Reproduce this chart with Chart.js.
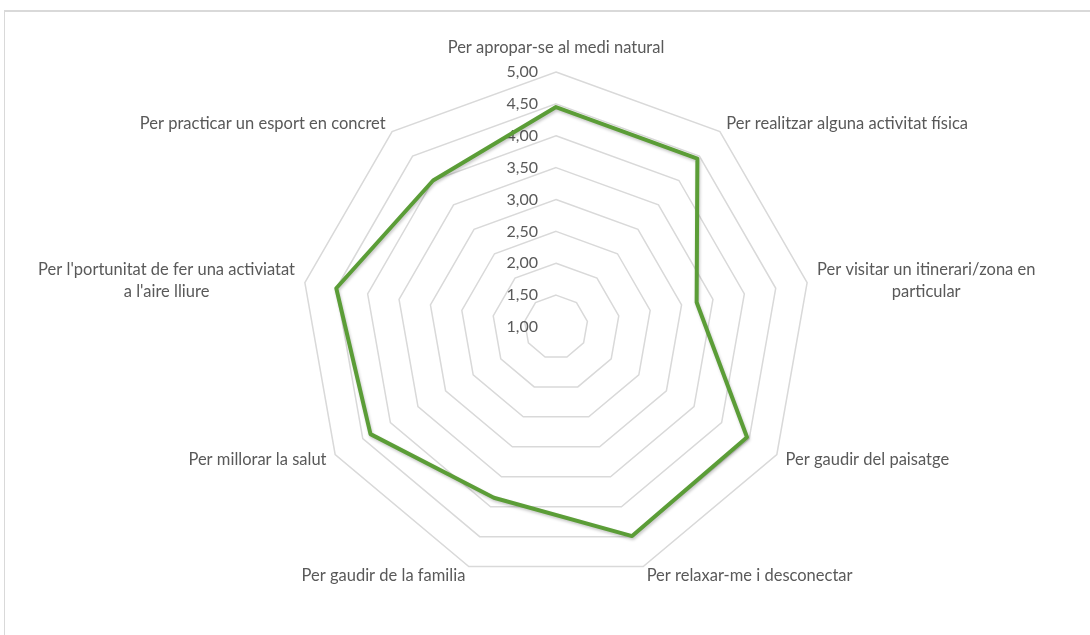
<!DOCTYPE html>
<html>
<head>
<meta charset="utf-8">
<script src="https://cdn.jsdelivr.net/npm/chart.js@4.4.1/dist/chart.umd.min.js"></script>
<style>
  html, body { margin: 0; padding: 0; background: #fff; overflow: hidden; }
  .wrap { position: relative; width: 1090px; height: 635px; }
  .marc { position: absolute; left: 4px; top: 10px; width: 1200px; height: 700px;
          border-top: 2px solid #d9d9d9; border-left: 1px solid #d9d9d9; }
  canvas { position: absolute; left: 0; top: 0; }
</style>
</head>
<body>
<div class="wrap">
  <div class="marc"></div>
  <canvas id="radar" width="1090" height="635"></canvas>
</div>
<script>
// categories (motius)
const categories = [
    'Per apropar-se al medi natural',
    'Per realitzar alguna activitat física',
    ['Per visitar un itinerari/zona en', 'particular'],
    'Per gaudir del paisatge',
    'Per relaxar-me i desconectar',
    'Per gaudir de la familia',
    'Per millorar la salut',
    ["Per l'portunitat de fer una activiatat", "a l'aire lliure"],
    'Per practicar un esport en concret'
];
// valoració mitjana
const valors = [4.45, 4.45, 3.24, 4.46, 4.49, 3.85, 4.36, 4.50, 4.00];
const tickLabels = ['1,00', '1,50', '2,00', '2,50', '3,00', '3,50', '4,00', '4,50', '5,00'];

const textColor = '#595959';
const fontFamily = 'Lato, "Liberation Sans", sans-serif';

// labels drawn the way Excel places them
const etiquetesExcel = {
    id: 'etiquetesExcel',
    beforeDatasetsDraw(chart) {
        const r = chart.scales.r;
        const ctx = chart.ctx;
        ctx.save();
        ctx.font = '16px ' + fontFamily;
        ctx.fillStyle = textColor;
        ctx.textAlign = 'right';
        ctx.textBaseline = 'middle';
        r.ticks.forEach((t) => {
            const d = r.getDistanceFromCenterForValue(t.value);
            ctx.fillText(t.label, r.xCenter - 18, r.yCenter - d);
        });
        ctx.restore();
        // shadow for the line
        ctx.save();
        ctx.shadowColor = 'rgba(0,0,0,0.22)';
        ctx.shadowBlur = 3;
        ctx.shadowOffsetX = 1;
        ctx.shadowOffsetY = 2;
    },
    afterDatasetsDraw(chart) {
        const ctx = chart.ctx;
        ctx.restore();
        const r = chart.scales.r;
        const lh = 22;
        ctx.save();
        ctx.font = '16.5px ' + fontFamily;
        ctx.fillStyle = textColor;
        ctx.textAlign = 'center';
        ctx.textBaseline = 'middle';
        categories.forEach((cat, i) => {
            const linies = Array.isArray(cat) ? cat : [cat];
            const a = r.getIndexAngle(i);
            const p = r.getPointPosition(i, r.drawingArea + 10);
            const s = Math.sin(a), c = Math.cos(a);
            const w = Math.max(...linies.map(l => ctx.measureText(l).width));
            const h = linies.length * lh;
            let cx, cy;
            if (Math.abs(s) < 0.05) cx = p.x;
            else if (s > 0) cx = p.x + w / 2;
            else cx = p.x - w / 2;
            if (c > 0.95) cy = p.y - 3 - h / 2;
            else cy = p.y;
            linies.forEach((l, k) => {
                ctx.fillText(l, cx, cy - h / 2 + lh / 2 + k * lh);
            });
        });
        ctx.restore();
    }
};

const ctx = document.getElementById('radar').getContext('2d');
const grafic = new Chart(ctx, {
    type: 'radar',
    data: {
        labels: categories,
        datasets: [{
            label: 'Motius',
            data: valors,
            borderColor: '#5B9D37',
            backgroundColor: 'rgba(0,0,0,0)',
            borderWidth: 4,
            borderJoinStyle: 'round',
            pointRadius: 0,
            pointHoverRadius: 0,
            fill: false,
            tension: 0
        }]
    },
    options: {
        responsive: false,
        animation: false,
        layout: {
            padding: { left: 301, right: 279, top: 72, bottom: 53 }
        },
        plugins: {
            legend: { display: false },
            tooltip: { enabled: false }
        },
        scales: {
            r: {
                min: 1,
                max: 5,
                beginAtZero: false,
                angleLines: { display: false },
                grid: { color: '#d9d9d9', lineWidth: 1.5, circular: false },
                pointLabels: { display: false },
                ticks: {
                    display: false,
                    stepSize: 0.5,
                    showLabelBackdrop: false,
                    callback: (v, i) => tickLabels[i]
                }
            }
        }
    },
    plugins: [etiquetesExcel]
});
</script>
</body>
</html>
